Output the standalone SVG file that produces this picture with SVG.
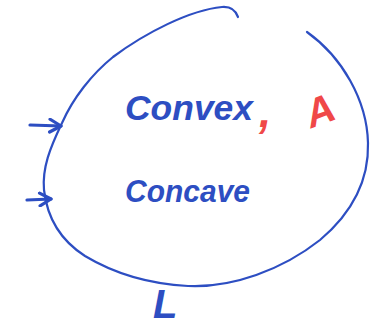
<svg xmlns="http://www.w3.org/2000/svg" width="383" height="327" viewBox="0 0 383 327">
<style>
.ink{fill:none;stroke:#2d4ec2;stroke-width:2.2;stroke-linecap:round;stroke-linejoin:round}
.arr{fill:none;stroke:#2d4ec2;stroke-width:3.2;stroke-linecap:round;stroke-linejoin:round}
.lbl{font-family:"Liberation Sans","DejaVu Sans",sans-serif;font-style:italic;font-weight:bold;fill:#2d4ec2}
.red{font-family:"Liberation Sans","DejaVu Sans",sans-serif;font-style:italic;font-weight:bold;fill:#f04848}
</style>
<defs>
<marker id="ah" viewBox="0 0 10 10" refX="9" refY="5" markerWidth="5" markerHeight="5" orient="auto" markerUnits="strokeWidth">
<path d="M2,1 L9,5 L2,9" fill="none" stroke="#2d4ec2" stroke-width="2" stroke-linecap="round" stroke-linejoin="round"/>
</marker>
</defs>
<rect width="383" height="327" fill="#ffffff"/>
<g id="set-A">
<path class="ink" d="M238,17 Q234,6 222,7 C190,10 145,33 113,57 C92,74 73,98 62,123 C50,148 42,168 44,190 C47,216 60,240 85,256 C115,274 150,284 188,286 C232,288 282,270 320,240 C352,213 369,180 368,143 C367,100 342,57 307,32"/>
</g>
<g id="label-convex">
<text class="lbl" x="125" y="120" font-size="35" textLength="128" lengthAdjust="spacingAndGlyphs">Convex</text>
</g>
<g id="label-concave">
<text class="lbl" x="125" y="202" font-size="31" textLength="125" lengthAdjust="spacingAndGlyphs">Concave</text>
</g>
<g id="label-A">
<text class="red" x="259" y="127" font-size="44">,</text>
<text class="red" x="305" y="125" font-size="40" transform="rotate(-20 318 110)">A</text>
</g>
<g id="label-L">
<text class="lbl" x="153" y="318" font-size="40">L</text>
</g>
<g id="connectors">
<path class="arr" d="M30,125 L61,126" marker-end="url(#ah)"/>
<path class="arr" d="M27,200 L51,199" marker-end="url(#ah)"/>
</g>
</svg>
